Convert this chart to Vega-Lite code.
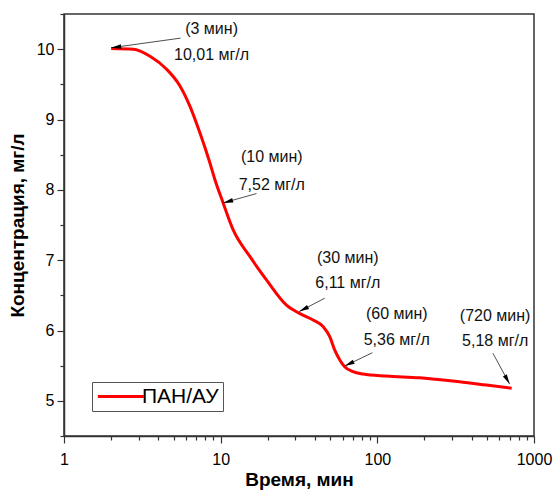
{
  "$schema": "https://vega.github.io/schema/vega-lite/v6.json",
  "width": 470,
  "height": 422,
  "autosize": "none",
  "padding": {"left": 64, "top": 14, "right": 19, "bottom": 54},
  "background": "white",
  "config": {
    "font": "Liberation Sans",
    "view": {"stroke": "#333", "strokeWidth": 1.5},
    "axis": {"grid": false, "domainColor": "#333", "domainWidth": 1.5, "tickColor": "#333", "tickWidth": 1.2, "labelColor": "#000", "titleColor": "#000", "labelFont": "Liberation Sans", "titleFont": "Liberation Sans"}
  },
  "resolve": {"axis": {"x": "independent", "y": "independent"}},
  "datasets": {
    "curve": [
      {"t": 2.0, "c": 10.01}, {"t": 2.77, "c": 10.0}, {"t": 3.54, "c": 9.9}, {"t": 4.52, "c": 9.715},
      {"t": 5.5, "c": 9.477}, {"t": 6.36, "c": 9.19}, {"t": 7.37, "c": 8.81}, {"t": 8.53, "c": 8.385},
      {"t": 9.18, "c": 8.147}, {"t": 10.37, "c": 7.814}, {"t": 12.0, "c": 7.434}, {"t": 15.36, "c": 7.053},
      {"t": 19.6, "c": 6.72}, {"t": 26.3, "c": 6.36}, {"t": 32.0, "c": 6.24}, {"t": 38.9, "c": 6.15},
      {"t": 45.1, "c": 6.055}, {"t": 49.7, "c": 5.913}, {"t": 53.5, "c": 5.72}, {"t": 57.6, "c": 5.58},
      {"t": 61.9, "c": 5.485}, {"t": 70.0, "c": 5.414}, {"t": 81.1, "c": 5.381}, {"t": 114, "c": 5.352},
      {"t": 186, "c": 5.328}, {"t": 304, "c": 5.281}, {"t": 497, "c": 5.224}, {"t": 720, "c": 5.18}
    ],
    "notes": [
      {"id": 1, "lab1": "(3 мин)", "lab2": "10,01 мг/л", "tx": 8.75, "ty1": 10.29, "ty2": 9.92, "t0": 5.55, "c0": 10.157, "t1": 2.0, "c1": 10.02},
      {"id": 2, "lab1": "(10 мин)", "lab2": "7,52 мг/л", "tx": 21.2, "ty1": 8.46, "ty2": 8.075, "t0": 16.94, "c0": 7.947, "t1": 10.37, "c1": 7.814},
      {"id": 3, "lab1": "(30 мин)", "lab2": "6,11 мг/л", "tx": 64.8, "ty1": 7.03, "ty2": 6.674, "t0": 46.2, "c0": 6.46, "t1": 31.7, "c1": 6.269},
      {"id": 4, "lab1": "(60 мин)", "lab2": "5,36 мг/л", "tx": 133, "ty1": 6.236, "ty2": 5.865, "t0": 93.0, "c0": 5.684, "t1": 61.9, "c1": 5.495},
      {"id": 5, "lab1": "(720 мин)", "lab2": "5,18 мг/л", "tx": 565, "ty1": 6.208, "ty2": 5.856, "t0": 547, "c0": 5.676, "t1": 699, "c1": 5.238}
    ]
  },
  "layer": [
    {
      "data": {"name": "curve"},
      "mark": {"type": "line", "strokeWidth": 3, "interpolate": "monotone"},
      "encoding": {
        "x": {"field": "t", "type": "quantitative",
          "scale": {"type": "log", "domain": [1, 1000], "nice": false},
          "axis": {
            "orient": "bottom",
            "values": [1, 10, 100, 1000],
            "format": "d",
            "tickSize": 7,
            "labelOverlap": false, "labelFlush": false, "labelFontSize": 16, "labelPadding": 8,
            "title": "Время, мин", "titleFontSize": 19, "titleFontWeight": "bold", "titlePadding": 3
          }},
        "y": {"field": "c", "type": "quantitative",
          "scale": {"domain": [4.5, 10.5], "nice": false, "zero": false},
          "axis": {
            "orient": "left",
            "values": [5, 6, 7, 8, 9, 10],
            "format": "d",
            "tickSize": 7,
            "labelOverlap": false, "labelFlush": false, "labelFontSize": 16, "labelPadding": 3,
            "title": "Концентрация, мг/л", "titleFontSize": 19, "titleFontWeight": "bold", "titlePadding": 9
          }},
        "color": {"datum": "ПАН/АУ", "type": "nominal",
          "scale": {"range": ["#ff0000"]},
          "legend": {"orient": "none", "legendX": 28, "legendY": 368, "title": null,
            "strokeColor": "#555", "fillColor": "white", "padding": 4,
            "symbolType": "M-1.5,0H6.5", "symbolSize": 132, "symbolStrokeWidth": 3,
            "labelFontSize": 21, "labelFont": "Liberation Sans", "labelColor": "#000", "labelOffset": 25}}
      }
    },
    {
      "data": {"name": "notes"},
      "mark": {"type": "rule", "color": "#222", "strokeWidth": 0.8},
      "encoding": {
        "x": {"field": "t0", "type": "quantitative",
          "axis": {"orient": "bottom", "values": [2,3,4,5,6,7,8,9,20,30,40,50,60,70,80,90,200,300,400,500,600,700,800,900],
            "tickSize": 4, "labels": false, "domain": false, "title": null}},
        "y": {"field": "c0", "type": "quantitative",
          "axis": {"orient": "left", "values": [4.5,5.5,6.5,7.5,8.5,9.5,10.5],
            "tickSize": 4, "labels": false, "domain": false, "title": null}},
        "x2": {"field": "t1"},
        "y2": {"field": "c1"}
      }
    },
    {
      "data": {"name": "notes"},
      "transform": [{"filter": "datum.id == 1"}],
      "mark": {"type": "point", "shape": "M0,0L-0.45,2L0.45,2Z", "filled": true, "color": "#000", "opacity": 1, "size": 100, "angle": 262.5},
      "encoding": {"x": {"field": "t1", "type": "quantitative", "axis": null}, "y": {"field": "c1", "type": "quantitative", "axis": null}}
    },
    {
      "data": {"name": "notes"},
      "transform": [{"filter": "datum.id == 2"}],
      "mark": {"type": "point", "shape": "M0,0L-0.45,2L0.45,2Z", "filled": true, "color": "#000", "opacity": 1, "size": 100, "angle": 254.4},
      "encoding": {"x": {"field": "t1", "type": "quantitative", "axis": null}, "y": {"field": "c1", "type": "quantitative", "axis": null}}
    },
    {
      "data": {"name": "notes"},
      "transform": [{"filter": "datum.id == 3"}],
      "mark": {"type": "point", "shape": "M0,0L-0.45,2L0.45,2Z", "filled": true, "color": "#000", "opacity": 1, "size": 100, "angle": 242.5},
      "encoding": {"x": {"field": "t1", "type": "quantitative", "axis": null}, "y": {"field": "c1", "type": "quantitative", "axis": null}}
    },
    {
      "data": {"name": "notes"},
      "transform": [{"filter": "datum.id == 4"}],
      "mark": {"type": "point", "shape": "M0,0L-0.45,2L0.45,2Z", "filled": true, "color": "#000", "opacity": 1, "size": 100, "angle": 244.3},
      "encoding": {"x": {"field": "t1", "type": "quantitative", "axis": null}, "y": {"field": "c1", "type": "quantitative", "axis": null}}
    },
    {
      "data": {"name": "notes"},
      "transform": [{"filter": "datum.id == 5"}],
      "mark": {"type": "point", "shape": "M0,0L-0.45,2L0.45,2Z", "filled": true, "color": "#000", "opacity": 1, "size": 100, "angle": 151.4},
      "encoding": {"x": {"field": "t1", "type": "quantitative", "axis": null}, "y": {"field": "c1", "type": "quantitative", "axis": null}}
    },
    {
      "data": {"name": "notes"},
      "mark": {"type": "text", "fontSize": 16, "color": "#111", "align": "center", "baseline": "middle", "font": "Liberation Sans"},
      "encoding": {
        "x": {"field": "tx", "type": "quantitative", "axis": null},
        "y": {"field": "ty1", "type": "quantitative", "axis": null},
        "text": {"field": "lab1"}
      }
    },
    {
      "data": {"name": "notes"},
      "mark": {"type": "text", "fontSize": 16, "color": "#111", "align": "center", "baseline": "middle", "font": "Liberation Sans"},
      "encoding": {
        "x": {"field": "tx", "type": "quantitative", "axis": null},
        "y": {"field": "ty2", "type": "quantitative", "axis": null},
        "text": {"field": "lab2"}
      }
    }
  ]
}
